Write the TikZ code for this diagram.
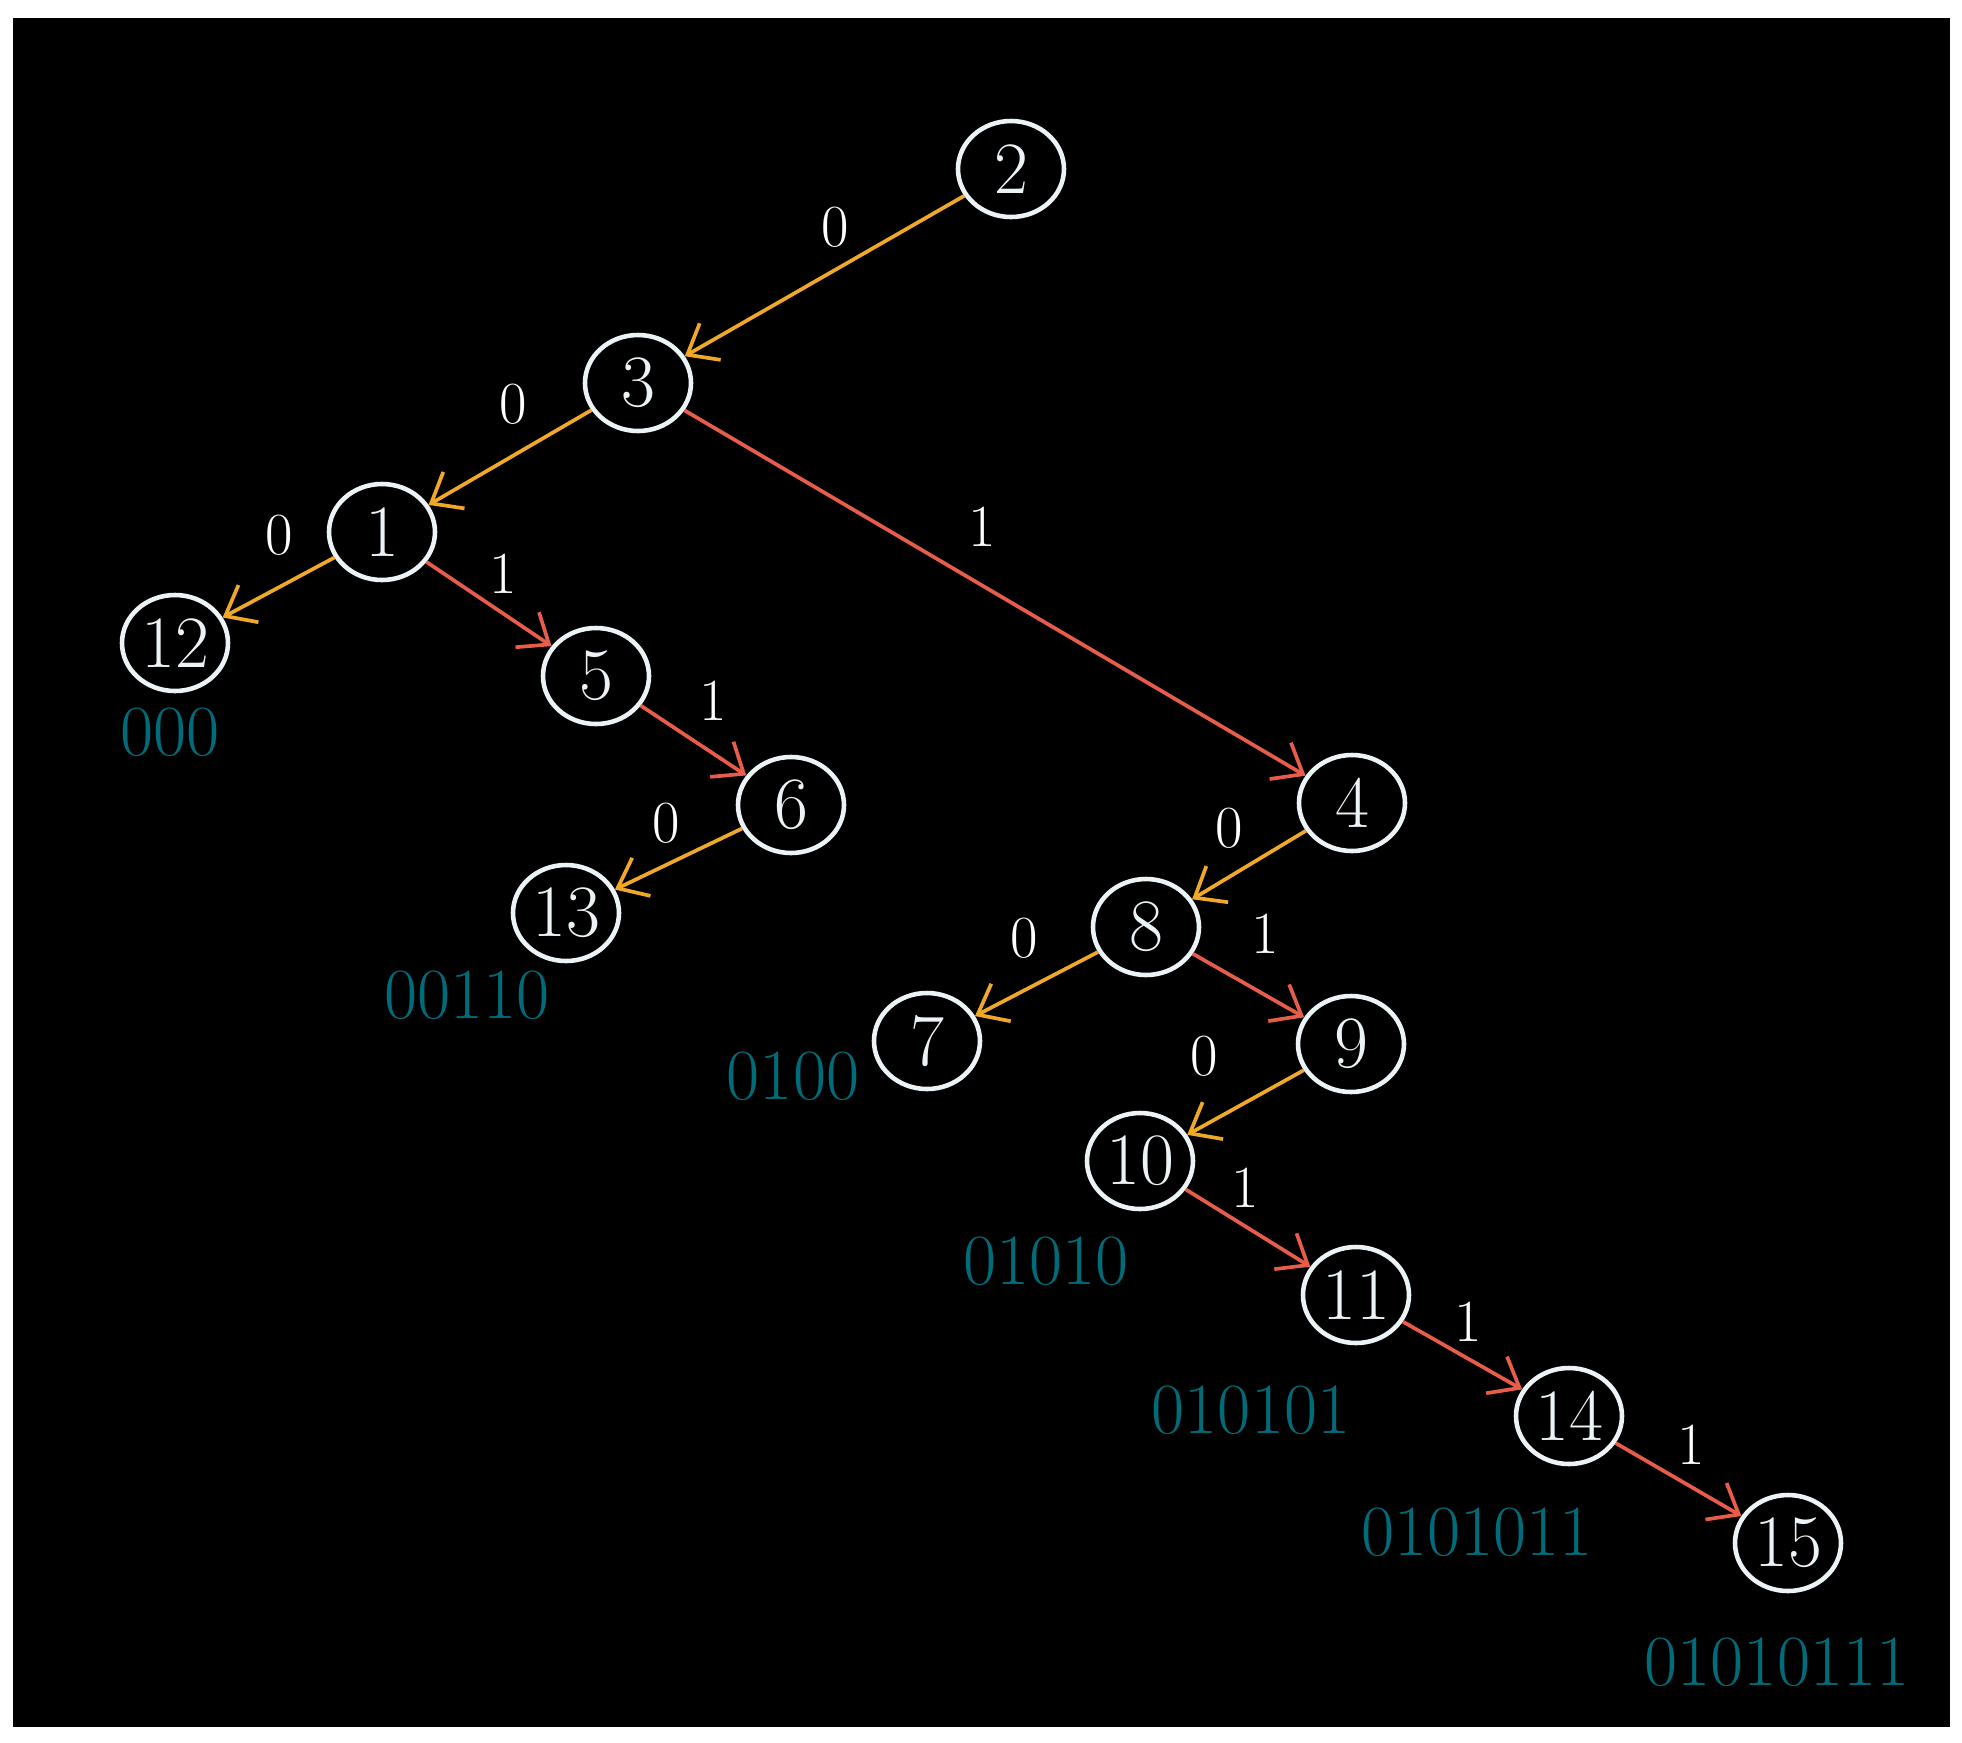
\documentclass[tikz,border=0pt]{standalone}
\usepackage{amsmath}
\usepackage{fontspec}
\usepackage{tikz}
\usetikzlibrary{positioning,shapes.geometric,arrows.meta}

\definecolor{zeroedge}{RGB}{240,168,40}
\definecolor{oneedge}{RGB}{232,92,74}
\definecolor{codeteal}{RGB}{0,108,122}
\definecolor{nodewhite}{RGB}{236,243,246}

\begin{document}
\begin{tikzpicture}[ovalnode/.style={ellipse, draw=nodewhite, text=nodewhite, line width=1.3pt, inner sep=0pt, minimum width=1.06cm, minimum height=0.96cm, font=\fontsize{21}{25}\selectfont},
        zeroarrow/.style={draw=zeroedge, line width=1.05pt, -{Straight Barb[length=7.5pt,width=12pt]}},
        onearrow/.style={draw=oneedge, line width=1.05pt, -{Straight Barb[length=7.5pt,width=12pt]}},
        bitlabel/.style={text=white, inner sep=0pt, font=\fontsize{17}{20}\selectfont},
        codelabel/.style={text=codeteal, inner sep=0pt, font=\fontsize{20.5}{24}\selectfont},
        on grid]

        \fill[white] (0,0) rectangle (19.62,-17.43);
        \fill[black] (0.125,-0.175) rectangle (19.495,-17.27);

        \node[ovalnode] (2) at (10.11,-1.69) {2};
        \node[ovalnode] (3) [below left=2.14cm and 3.73cm of 2] {3};
        \node[ovalnode] (1) [below left=1.49cm and 2.56cm of 3] {1};
        \node[ovalnode] (12) [below left=1.11cm and 2.07cm of 1] {12};
        \node[ovalnode] (5) [below right=1.44cm and 2.14cm of 1] {5};
        \node[ovalnode] (6) [below right=1.29cm and 1.95cm of 5] {6};
        \node[ovalnode] (13) [below left=1.08cm and 2.25cm of 6] {13};
        \node[ovalnode] (4) [below right=4.20cm and 7.14cm of 3] {4};
        \node[ovalnode] (8) [below left=1.24cm and 2.06cm of 4] {8};
        \node[ovalnode] (7) [below left=1.14cm and 2.19cm of 8] {7};
        \node[ovalnode] (9) [below right=1.17cm and 2.05cm of 8] {9};
        \node[ovalnode] (10) [below left=1.17cm and 2.11cm of 9] {10};
        \node[ovalnode] (11) [below right=1.34cm and 2.16cm of 10] {11};
        \node[ovalnode] (14) [below right=1.21cm and 2.13cm of 11] {14};
        \node[ovalnode] (15) [below right=1.27cm and 2.19cm of 14] {15};

        \node[codelabel] (c12) [below left=0.89cm and 0.05cm of 12] {000};
        \node[codelabel] (c13) [below left=0.82cm and 0.99cm of 13] {00110};
        \node[codelabel] (c7) [below left=0.35cm and 1.34cm of 7] {0100};
        \node[codelabel] (c10) [below left=1.00cm and 0.94cm of 10] {01010};
        \node[codelabel] (c11) [below left=1.15cm and 1.05cm of 11] {010101};
        \node[codelabel] (c14) [below left=1.16cm and 0.92cm of 14] {0101011};
        \node[codelabel] (c15) [below left=1.19cm and 0.11cm of 15] {01010111};

        \draw[zeroarrow] (2) -- node[bitlabel, pos=0.46, above=0.20cm] {0} (3);
        \draw[zeroarrow] (3) -- node[bitlabel, pos=0.48, above=0.29cm] {0} (1);
        \draw[onearrow] (3) -- node[bitlabel, pos=0.48, above=0.37cm] {1} (4);
        \draw[zeroarrow] (1) -- node[bitlabel, pos=0.49, above=0.30cm] {0} (12);
        \draw[onearrow] (1) -- node[bitlabel, pos=0.61, above=0.18cm] {1} (5);
        \draw[onearrow] (5) -- node[bitlabel, pos=0.69, above=0.31cm] {1} (6);
        \draw[zeroarrow] (6) -- node[bitlabel, pos=0.60, above=0.20cm] {0} (13);
        \draw[zeroarrow] (4) -- node[bitlabel, pos=0.67, above=0.26cm] {0} (8);
        \draw[zeroarrow] (8) -- node[bitlabel, pos=0.60, above=0.30cm] {0} (7);
        \draw[onearrow] (8) -- node[bitlabel, pos=0.65, above=0.40cm] {1} (9);
        \draw[zeroarrow] (9) -- node[bitlabel, pos=0.85, above=0.47cm] {0} (10);
        \draw[onearrow] (10) -- node[bitlabel, pos=0.48, above=0.17cm] {1} (11);
        \draw[onearrow] (11) -- node[bitlabel, pos=0.55, above=0.16cm] {1} (14);
        \draw[onearrow] (14) -- node[bitlabel, pos=0.60, above=0.20cm] {1} (15);

        \end{tikzpicture}
\end{document}
